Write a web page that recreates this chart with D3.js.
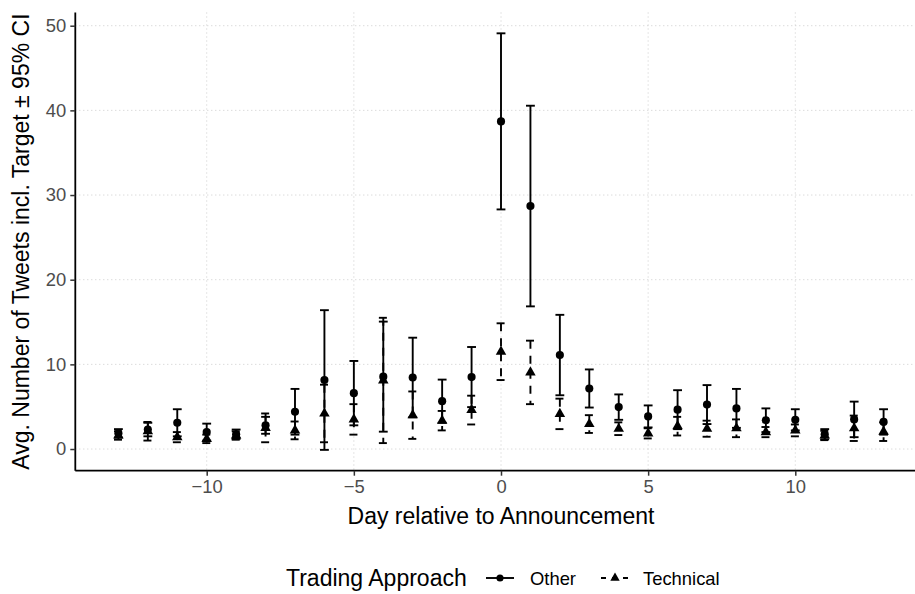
<!DOCTYPE html>
<html>
<head>
<meta charset="utf-8">
<script src="https://cdn.jsdelivr.net/npm/d3@7"></script>
<style>
  html, body { margin: 0; padding: 0; background: #fff; }
  svg text { font-family: "Liberation Sans", Arial, sans-serif; }
</style>
</head>
<body>
<svg id="chart" width="915" height="594"></svg>
<script>
// Day relative to announcement
const days = [-13, -12, -11, -10, -9, -8, -7, -6, -5, -4, -3, -2, -1, 0, 1, 2, 3, 4, 5, 6, 7, 8, 9, 10, 11, 12, 13];

// "Other" trading approach: mean and 95% CI
const otherMean = [1.85, 2.3, 3.1, 2.0, 1.75, 2.8, 4.4, 8.15, 6.6, 8.55, 8.45, 5.65, 8.5, 38.7, 28.7, 11.1, 7.15, 4.95, 3.85, 4.65, 5.25, 4.8, 3.4, 3.45, 1.75, 3.5, 3.2];
const otherLow = [1.35, 1.5, 1.5, 1.0, 1.2, 1.8, 1.7, -0.1, 2.8, 2.05, 3.75, 3.1, 4.95, 28.3, 16.85, 6.35, 4.9, 3.45, 2.55, 2.35, 2.95, 2.5, 2.0, 2.2, 1.15, 1.4, 1.7];
const otherHigh = [2.35, 3.1, 4.7, 3.0, 2.3, 3.8, 7.1, 16.4, 10.4, 15.05, 13.15, 8.2, 12.05, 49.1, 40.55, 15.85, 9.4, 6.45, 5.15, 6.95, 7.55, 7.1, 4.8, 4.7, 2.35, 5.6, 4.7];

// "Technical" trading approach: mean and 95% CI
const techMean = [1.6, 2.1, 1.4, 1.2, 1.6, 2.5, 2.2, 4.2, 3.5, 8.1, 4.0, 3.35, 4.6, 11.5, 9.05, 4.15, 2.95, 2.4, 1.85, 2.7, 2.4, 2.45, 2.0, 2.2, 1.6, 2.45, 2.05];
const techLow = [1.1, 1.0, 0.8, 0.7, 1.1, 0.8, 1.15, 0.8, 1.7, 0.7, 1.2, 2.2, 2.9, 8.15, 5.3, 2.35, 1.9, 1.65, 1.25, 1.6, 1.45, 1.4, 1.4, 1.5, 1.05, 0.95, 0.95];
const techHigh = [2.1, 3.2, 2.0, 1.7, 2.1, 4.2, 3.25, 7.6, 5.3, 15.5, 6.8, 4.5, 6.3, 14.85, 12.8, 5.95, 4.0, 3.15, 2.45, 3.8, 3.35, 3.5, 2.6, 2.9, 2.15, 3.95, 3.15];

const xTicks = [-10, -5, 0, 5, 10];
const yTicks = [0, 10, 20, 30, 40, 50];

const seriesNames = ["Other", "Technical"];
const legendTitle = "Trading Approach";
const xTitle = "Day relative to Announcement";
const yTitle = "Avg. Number of Tweets incl. Target \u00b1 95% CI";

const PANEL_LEFT = 75.3;
const PANEL_RIGHT = 926.7;
const PANEL_TOP = 12.5;
const PANEL_BOTTOM = 470.7;
const BAR_WIDTH = 0.3;
const DASH = "8,7";

const svg = d3.select("#chart");

// ggplot-like expanded domains (5% on each side)
const xMin = d3.min(days) - BAR_WIDTH / 2;
const xMax = d3.max(days) + BAR_WIDTH / 2;
const xPad = (xMax - xMin) * 0.05;
const x = d3.scaleLinear()
  .domain([xMin - xPad, xMax + xPad])
  .range([PANEL_LEFT, PANEL_RIGHT]);

const yMin = d3.min(otherLow.concat(techLow));
const yMax = d3.max(otherHigh.concat(techHigh));
const yPad = (yMax - yMin) * 0.05;
const y = d3.scaleLinear()
  .domain([yMin - yPad, yMax + yPad])
  .range([PANEL_BOTTOM, PANEL_TOP]);

const series = [
  {name: seriesNames[0], mean: otherMean, low: otherLow, high: otherHigh, dash: null, shape: "circle"},
  {name: seriesNames[1], mean: techMean, low: techLow, high: techHigh, dash: DASH, shape: "triangle"}
];

// grid
const grid = svg.append("g");
grid.selectAll("line.gx")
  .data(xTicks)
  .enter()
  .append("line")
  .attr("x1", d => x(d)).attr("x2", d => x(d))
  .attr("y1", PANEL_TOP).attr("y2", PANEL_BOTTOM)
  .attr("stroke", "#cccccc").attr("stroke-width", 1).attr("stroke-dasharray", "1,3");
grid.selectAll("line.gy")
  .data(yTicks)
  .enter()
  .append("line")
  .attr("x1", PANEL_LEFT).attr("x2", PANEL_RIGHT)
  .attr("y1", d => y(d)).attr("y2", d => y(d))
  .attr("stroke", "#cccccc").attr("stroke-width", 1).attr("stroke-dasharray", "1,3");

// error bars: top cap, stem, bottom cap as separate segments
const bars = svg.append("g");
series.forEach(s => {
  const half = BAR_WIDTH / 2;
  days.forEach((d, i) => {
    const segs = [
      [[d - half, s.high[i]], [d + half, s.high[i]]],
      [[d, s.high[i]], [d, s.low[i]]],
      [[d - half, s.low[i]], [d + half, s.low[i]]]
    ];
    segs.forEach(seg => {
      bars.append("path")
        .attr("d", d3.line().x(p => x(p[0])).y(p => y(p[1]))(seg))
        .attr("fill", "none")
        .attr("stroke", "#000")
        .attr("stroke-width", 1.9)
        .attr("stroke-dasharray", s.dash);
    });
  });
});

// points
const pts = svg.append("g");
series.forEach(s => {
  const sym = s.shape === "circle" ? d3.symbolCircle : d3.symbolTriangle;
  const size = s.shape === "circle" ? 52 : 48;
  pts.selectAll(null)
    .data(days)
    .enter()
    .append("path")
    .attr("transform", (d, i) => `translate(${x(d)},${y(s.mean[i])})`)
    .attr("d", d3.symbol().type(sym).size(size))
    .attr("fill", "#000");
});

// axes
const xAxis = svg.append("g")
  .attr("transform", `translate(0,${PANEL_BOTTOM})`)
  .call(d3.axisBottom(x).tickValues(xTicks).tickSize(5).tickPadding(4)
    .tickFormat(d => d < 0 ? "\u2212" + Math.abs(d) : d));
const yAxis = svg.append("g")
  .attr("transform", `translate(${PANEL_LEFT},0)`)
  .call(d3.axisLeft(y).tickValues(yTicks).tickSize(5).tickPadding(4));

[xAxis, yAxis].forEach(a => {
  a.select(".domain").attr("stroke", "#000").attr("stroke-width", 1.8);
  a.selectAll(".tick line").attr("stroke", "#333").attr("stroke-width", 1.5);
  a.selectAll(".tick text")
    .attr("fill", "#4d4d4d")
    .style("font-size", "18.4px")
    .style("font-family", "'Liberation Sans', Arial, sans-serif");
});
xAxis.select(".domain").attr("d", `M${PANEL_LEFT},0H${PANEL_RIGHT}`);
yAxis.select(".domain").attr("d", `M0,${PANEL_BOTTOM}V${PANEL_TOP}`);

// axis titles
svg.append("text")
  .attr("x", (PANEL_LEFT + PANEL_RIGHT) / 2)
  .attr("y", 524)
  .attr("text-anchor", "middle")
  .style("font-size", "23px")
  .text(xTitle);

svg.append("text")
  .attr("transform", `translate(29,${(PANEL_TOP + PANEL_BOTTOM) / 2}) rotate(-90)`)
  .attr("text-anchor", "middle")
  .style("font-size", "23px")
  .text(yTitle);

// legend
const legY = 578;
const legend = svg.append("g");
legend.append("text")
  .attr("x", 286).attr("y", legY + 8)
  .style("font-size", "23px")
  .text(legendTitle);

const keyCentres = [500, 615];
const labelStarts = [530, 643];
series.forEach((s, i) => {
  const cx = keyCentres[i];
  legend.append("line")
    .attr("x1", cx - 14).attr("x2", cx + 14)
    .attr("y1", legY).attr("y2", legY)
    .attr("stroke", "#000").attr("stroke-width", 1.9)
    .attr("stroke-dasharray", s.dash ? "5,6" : null);
  legend.append("path")
    .attr("transform", `translate(${cx},${legY})`)
    .attr("d", d3.symbol().type(s.shape === "circle" ? d3.symbolCircle : d3.symbolTriangle).size(s.shape === "circle" ? 40 : 38))
    .attr("fill", "#000");
  legend.append("text")
    .attr("x", labelStarts[i]).attr("y", legY + 6.5)
    .style("font-size", "18.4px")
    .text(s.name);
});
</script>
</body>
</html>
